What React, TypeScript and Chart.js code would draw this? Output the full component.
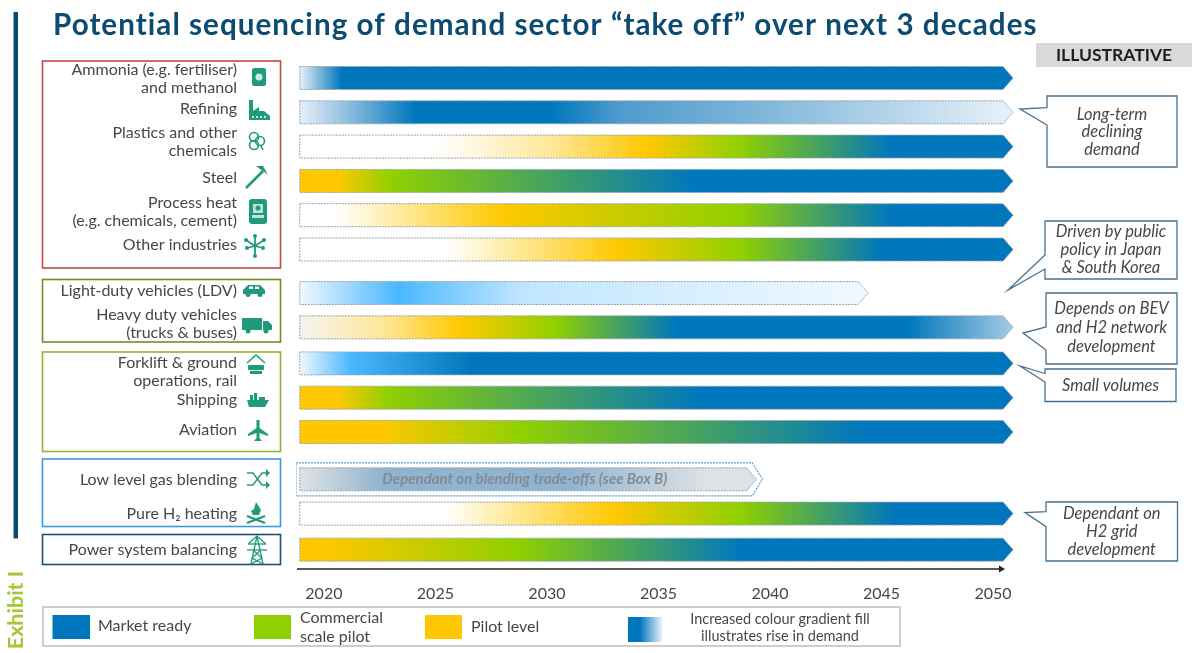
import React, { useEffect, useRef } from "react";
import { Chart, registerables, BarController, BarElement } from "chart.js";

Chart.register(...registerables);

// ---------- data ----------
const sectorLabels: (string | string[])[] = [
  ["Ammonia (e.g. fertiliser)", "and methanol"],
  "Refining",
  ["Plastics and other", "chemicals"],
  "Steel",
  ["Process heat", "(e.g. chemicals, cement)"],
  "Other industries",
  "Light-duty vehicles (LDV)",
  ["Heavy duty vehicles", "(trucks & buses)"],
  ["Forklift & ground", "operations, rail"],
  "Shipping",
  "Aviation",
  "Low level gas blending",
  "Pure H₂ heating",
  "Power system balancing",
];
const groupSizes = [6, 2, 3, 2, 1];
const barStartYears = [2018.92, 2018.92, 2018.92, 2018.92, 2018.92, 2018.92, 2018.92, 2018.92, 2018.92, 2018.92, 2018.92, 2018.92, 2018.92, 2018.92];
const barEndYears = [2050.9, 2050.9, 2050.9, 2050.9, 2050.9, 2050.9, 2044.4, 2050.9, 2050.9, 2050.9, 2050.9, 2039.4, 2050.9, 2050.9];
const stageYears = [
  [2018.92, 2020.8, 2050.9],
  [2018.92, 2021, 2024.1, 2030.2, 2033.3, 2039.6, 2050.6],
  [2018.92, 2025, 2030.2, 2034.5, 2038.7, 2045.4, 2050.9],
  [2018.92, 2020.6, 2023.1, 2036.6, 2050.9],
  [2018.92, 2020.5, 2028.1, 2038.7, 2045.4, 2050.9],
  [2018.92, 2025.6, 2033.2, 2038.7, 2045, 2050.9],
  [2018.92, 2023.3, 2028.9, 2044.4],
  [2018.92, 2022.6, 2026.2, 2030.4, 2035.8, 2046.2, 2050.9],
  [2018.92, 2021.2, 2026.6, 2050.9],
  [2018.92, 2020.6, 2022.9, 2036.9, 2050.9],
  [2018.92, 2022.6, 2028.9, 2044.2, 2050.9],
  [2018.92, 2022.6, 2031, 2037.3, 2039.4],
  [2018.92, 2025.4, 2033, 2038.7, 2045.6, 2050.9],
  [2018.92, 2020.1, 2028.7, 2038.7, 2050.9],
];
const stageNames = [
  ["demandFaint", "market", "market"],
  ["demandFaint", "demandHalf", "market", "market", "demandHigh", "demandMid", "demandFaint"],
  ["none", "none", "pilotPale", "pilot", "commercial", "market", "market"],
  ["pilot", "pilot", "commercial", "market", "market"],
  ["none", "none", "pilot", "commercial", "market", "market"],
  ["none", "none", "pilot", "commercial", "market", "market"],
  ["skyFaint", "sky", "skyPale", "skyFaint"],
  ["offWhite", "pilotPale", "pilot", "commercial", "market", "market", "demandLow"],
  ["skyFaint", "sky", "market", "market"],
  ["pilot", "pilot", "commercial", "market", "market"],
  ["pilot", "pilot", "commercial", "market", "market"],
  ["blendPale", "blendDeep", "blendDeep", "blendPale", "blendPale"],
  ["none", "none", "pilot", "commercial", "market", "market"],
  ["pilot", "pilot", "commercial", "market", "market"],
];
const tickYears = [2020, 2025, 2030, 2035, 2040, 2045, 2050];
const blendHaloStart = 2018.75;
const blendHaloEnd = 2039.66;
const blendIndex = 11;
const legendLabels = ["Market ready", ["Commercial", "scale pilot"], "Pilot level", ["Increased colour gradient fill", "illustrates rise in demand"]];

// ---------- style and layout ----------
const FONT = "Lato";
const TEXT = "#474747";
const NAVY = "#0C4C73";
const STAGE: Record<string, string> = {
  none: "#FFFFFF", offWhite: "#F4F4EE", market: "#0077BC", commercial: "#8FD000", pilot: "#FFC800", pilotPale: "#FFE79A",
  demandFaint: "#E6F0F8", demandHalf: "#8FC0E0", demandHigh: "#4F9BCD", demandMid: "#7FB6DA", demandLow: "#A3CBE5",
  sky: "#4AB8FF", skyPale: "#C0E6FF", skyFaint: "#F0F8FF", blendPale: "#DFE2E4", blendDeep: "#90B4D0",
};
const GROUP_GAPS = [0.27, 0.05, 0.38, 0.05];
const ROW_PX = 34.3;
const PLOT_TOP = 60;
const PLOT_BOTTOM = 570;
const FIRST_ROW_PX = 78;
const LABEL_NUDGE = [1, -3, -4.5, -3, -3, -4.5, -2, -3.5, 8, 2.5, -2, 1, 0, 0];
const BAR_DASH = [2, 1];
const HEAD_PX = 10;
const TITLE_SIZE = 30;

const rowPositions: number[] = [];
{
  let pos = 0;
  groupSizes.forEach((n, g) => {
    for (let i = 0; i < n; i++) rowPositions.push(pos + i);
    pos += n + (GROUP_GAPS[g] || 0);
  });
}

class ArrowBar extends BarElement {
  static id = "arrowBar";
  static defaults = { ...BarElement.defaults };
  draw(ctx: CanvasRenderingContext2D) {
    const { x, y, base, height } = (this as any).getProps(["x", "y", "base", "height"]);
    const o = (this as any).options;
    const h = height / 2;
    ctx.save();
    ctx.beginPath();
    ctx.moveTo(base, y - h);
    ctx.lineTo(x - HEAD_PX, y - h);
    ctx.lineTo(x, y);
    ctx.lineTo(x - HEAD_PX, y + h);
    ctx.lineTo(base, y + h);
    ctx.closePath();
    ctx.fillStyle = o.backgroundColor;
    ctx.fill();
    ctx.strokeStyle = o.borderColor;
    ctx.lineWidth = o.borderWidth;
    ctx.setLineDash(BAR_DASH);
    ctx.stroke();
    ctx.restore();
  }
}
class ArrowBarController extends BarController {
  static id = "arrowBar";
  static defaults = { ...BarController.defaults, dataElementType: "arrowBar" };
  static overrides = BarController.overrides;
}
Chart.register(ArrowBar as any, ArrowBarController as any);

const stageFill = (c: any) => {
  const scale = c.chart.scales.x;
  if (!scale || c.dataIndex === undefined) return "transparent";
  const i = c.dataIndex;
  const a = barStartYears[i];
  const b = barEndYears[i];
  const pa = scale.getPixelForValue(a);
  const pb = scale.getPixelForValue(b);
  if (!Number.isFinite(pa) || !Number.isFinite(pb)) return "transparent";
  const g = c.chart.ctx.createLinearGradient(pa, 0, pb, 0);
  stageYears[i].forEach((yr, k) => {
    g.addColorStop(Math.min(1, Math.max(0, (yr - a) / (b - a))), STAGE[stageNames[i][k]]);
  });
  return g;
};

// ---------- decorations ----------
const groupFrames = [
  { top: 61, bottom: 268, color: "#C4474B" },
  { top: 279.5, bottom: 342, color: "#6F8F2A" },
  { top: 352, bottom: 451.5, color: "#8FB52E" },
  { top: 459, bottom: 526.5, color: "#3B9AD6" },
  { top: 534.5, bottom: 564.5, color: "#1D4E6B" },
];
const callouts = [
  { box: [1047, 96, 1177, 167], tip: [1020, 109], join: [107.7, 125], lines: ["Long-term", "declining", "demand"], ys: [115, 132, 150] },
  { box: [1045, 221, 1177, 279], tip: [1008, 290], join: [255, 269], lines: ["Driven by public", "policy in Japan", "& South Korea"], ys: [232, 250, 268] },
  { box: [1046, 293, 1177, 364], tip: [1023, 333], join: [327, 350], lines: ["Depends on BEV", "and H2 network", "development"], ys: [309, 328, 347] },
  { box: [1045, 369, 1176, 401.5], tip: [1020, 366], join: [373.5, 382], lines: ["Small volumes"], ys: [386] },
  { box: [1046, 502, 1177.5, 561], tip: [1025, 512.5], join: [511.7, 526.7], lines: ["Dependant on", "H2 grid", "development"], ys: [514, 532, 550] },
];

const ICON = "#1F9A7C";
type Ctx = CanvasRenderingContext2D;
const poly = (c: Ctx, p: number[], fill = true) => {
  c.beginPath();
  for (let i = 0; i < p.length; i += 2) (i ? c.lineTo(p[i], p[i + 1]) : c.moveTo(p[i], p[i + 1]));
  if (fill) { c.closePath(); c.fill(); } else c.stroke();
};
const dot = (c: Ctx, x: number, y: number, r: number) => { c.beginPath(); c.arc(x, y, r, 0, Math.PI * 2); c.fill(); };
const ring = (c: Ctx, x: number, y: number, r: number) => { c.beginPath(); c.arc(x, y, r, 0, Math.PI * 2); c.stroke(); };
const icons: ((c: Ctx) => void)[] = [
  (c) => { c.beginPath(); c.roundRect(-7, -9, 14, 18, 2); c.fill(); c.fillStyle = "#CDE8DF"; dot(c, 0, 0, 3.5); },
  (c) => { poly(c, [-10, 10, -10, -10, -6, -10, -6, 1, 0, -3, 0, 1, 5, 1, 11, 6, 11, 10]); c.fillStyle = "#fff"; [-6, -2, 2, 6].forEach((x) => dot(c, x, 7, 1)); },
  (c) => { c.lineWidth = 1.6; ring(c, -2, -4, 4.5); ring(c, -2, 4, 4.5); ring(c, 4, 0, 4.5); c.beginPath(); c.moveTo(5, 5); c.lineTo(7, 9); c.stroke(); },
  (c) => { c.lineWidth = 2.6; poly(c, [-11, 11, 6, -6], false); poly(c, [-1, -11, 6, -11, 11, -2, 6, -6, 3, -8, -1, -11]); },
  (c) => { c.beginPath(); c.roundRect(-9, -13, 18, 25, 3); c.fill(); c.fillStyle = "#BFE3D6"; c.fillRect(-5, -8, 10, 9); c.fillRect(-6, 3, 12, 3); c.fillStyle = ICON; dot(c, 0, -4, 2.5); },
  (c) => { c.lineWidth = 1.8; [[-9, -6], [9, -6], [0, 10], [-8, 2], [8, 2], [0, -10]].forEach(([x, y]) => { c.beginPath(); c.moveTo(0, 0); c.lineTo(x, y); c.stroke(); dot(c, x, y, 2); }); },
  (c) => { poly(c, [-11, 0, -6, -5, 6, -5, 11, 0, 11, 4, -11, 4]); c.fillStyle = "#fff"; c.fillRect(-5, -3.5, 4, 2.5); c.fillRect(1, -3.5, 4, 2.5); c.fillStyle = ICON; dot(c, -6, 4.5, 2.5); dot(c, 6, 4.5, 2.5); },
  (c) => { c.fillRect(-15, -7, 20, 12); poly(c, [6, -4, 11, -4, 15, 0, 15, 5, 6, 5]); dot(c, -9, 6, 2.5); dot(c, 9, 6, 2.5); },
  (c) => { c.lineWidth = 1.5; poly(c, [-9, -1, 0, -9, 9, -1], false); c.beginPath(); c.roundRect(-8, 1, 16, 5, 1); c.fill(); c.fillRect(-6, 7, 12, 3); },
  (c) => { poly(c, [-11, 0, 11, 0, 7, 7, -9, 7]); c.fillRect(-8, -5, 3, 5); c.fillRect(-4, -7, 3, 7); c.fillRect(1, -3, 6, 3); },
  (c) => { poly(c, [-1.5, -11, 1.5, -11, 1.5, -3, 10, 3, 10, 5, 1.5, 2, 1.5, 7, 4, 10, -4, 10, -1.5, 7, -1.5, 2, -10, 5, -10, 3, -1.5, -3]); },
  (c) => {
    c.lineWidth = 1.4;
    c.beginPath(); c.moveTo(-11, -6); c.lineTo(-5, -6); c.lineTo(4, 6); c.lineTo(9, 6); c.stroke();
    c.beginPath(); c.moveTo(-11, 6); c.lineTo(-5, 6); c.lineTo(4, -6); c.lineTo(9, -6); c.stroke();
    poly(c, [8, -10, 12, -6, 8, -2]); poly(c, [8, 2, 12, 6, 8, 10]);
  },
  (c) => {
    poly(c, [0, -11, 5, -3, 3, 2, -3, 2, -5, -2, -2, -4]);
    c.lineWidth = 2.4; poly(c, [-9, 3, 9, 10], false); poly(c, [9, 3, -9, 10], false);
  },
  (c) => {
    c.lineWidth = 1.3;
    poly(c, [0, -14, -6, 14], false); poly(c, [0, -14, 6, 14], false);
    poly(c, [-9, -6, 9, -6], false); poly(c, [-10, 0, 10, 0], false); poly(c, [-9, -6, 0, -14, 9, -6], false);
    poly(c, [-4, 0, 5, 8, -6, 14], false); poly(c, [4, 0, -5, 8, 6, 14], false);
  },
];
const iconCentres = [[259, 77], [259, 110], [256, 141], [257, 177], [258, 212], [255, 246], [254, 290], [257, 325], [256, 364], [258, 400], [258, 431], [258, 479], [256, 513], [257, 550]];

const text = (c: Ctx, s: string, x: number, y: number, font: string, color = TEXT, align: CanvasTextAlign = "center") => {
  c.font = font; c.fillStyle = color; c.textAlign = align; c.textBaseline = "middle"; c.fillText(s, x, y);
};

const decorations = {
  id: "decorations",
  afterLayout(chart: any) {
    const t = chart.titleBlock;
    if (!t || t.__spaced) return;
    t.__spaced = true;
    const draw = t.draw.bind(t);
    t.draw = () => {
      const c = t.ctx;
      c.save();
      (c as any).letterSpacing = "1.05px";
      draw();
      c.restore();
    };
  },
  beforeDatasetsDraw(chart: any) {
    const c: Ctx = chart.ctx;
    c.save();
    c.fillStyle = NAVY;
    c.fillRect(13.5, 12, 4.5, 526.5);
    groupFrames.forEach((f) => { c.strokeStyle = f.color; c.lineWidth = 1.6; c.strokeRect(42.5, f.top, 238, f.bottom - f.top); });
    iconCentres.forEach(([x, y], i) => {
      c.save(); c.translate(x, y); c.fillStyle = ICON; c.strokeStyle = ICON; icons[i](c); c.restore();
    });
    c.restore();
  },
  afterDatasetsDraw(chart: any) {
    const c: Ctx = chart.ctx;
    const xs = chart.scales.x;
    c.save();
    // time arrow
    c.strokeStyle = "#222"; c.lineWidth = 1.6;
    c.beginPath(); c.moveTo(297, 569); c.lineTo(1000, 569); c.stroke();
    c.fillStyle = "#222"; poly(c, [999, 565.5, 1005, 569, 999, 572.5]);
    // text on the blending bar
    text(c, "Dependant on blending trade-offs (see Box B)", (xs.getPixelForValue(2020) + xs.getPixelForValue(2039.4)) / 2 - 15.5, 479, `italic bold 15px ${FONT}`, "#7F8C98");
    // illustrative tag
    c.fillStyle = "#D9D9D9"; c.fillRect(1036, 43, 156, 24);
    text(c, "ILLUSTRATIVE", 1114, 55.5, `bold 17.5px ${FONT}`, "#1E1E1E");
    // callouts
    callouts.forEach((k) => {
      const [l, t, r, b] = k.box;
      c.strokeStyle = "#45718F"; c.lineWidth = 1.3; c.fillStyle = "#fff";
      c.beginPath(); c.moveTo(l, t); c.lineTo(r, t); c.lineTo(r, b); c.lineTo(l, b);
      c.lineTo(l, k.join[1]); c.lineTo(k.tip[0], k.tip[1]); c.lineTo(l, k.join[0]); c.closePath();
      c.fill(); c.stroke();
      k.lines.forEach((s, i) => text(c, s, (l + r) / 2, k.ys[i], `italic 16.5px ${FONT}`));
    });
    // exhibit tag
    c.save(); c.translate(16, 610); c.rotate(-Math.PI / 2);
    text(c, "Exhibit I", 0, 0, `bold 21.5px ${FONT}`, "#A4C639");
    c.restore();
    // legend
    c.strokeStyle = "#BDBDBD"; c.lineWidth = 1.5; c.strokeRect(43, 607, 857, 39);
    c.fillStyle = STAGE.market; c.fillRect(52.5, 615, 37.5, 24);
    c.fillStyle = STAGE.commercial; c.fillRect(254, 615, 37, 24);
    c.fillStyle = STAGE.pilot; c.fillRect(425, 615, 37, 24);
    const g = c.createLinearGradient(628, 0, 662, 0);
    g.addColorStop(0, STAGE.market); g.addColorStop(0.35, STAGE.market); g.addColorStop(1, "#E8F2F8");
    c.fillStyle = g; c.fillRect(628, 617, 34, 25);
    const f = `16px ${FONT}`;
    text(c, legendLabels[0] as string, 98, 626, f, TEXT, "left");
    (legendLabels[1] as string[]).forEach((s, i) => text(c, s, 300, 618 + i * 18.5, f, TEXT, "left"));
    text(c, legendLabels[2] as string, 471, 627, f, TEXT, "left");
    (legendLabels[3] as string[]).forEach((s, i) => text(c, s, 780, 619 + i * 17.5, `14.5px ${FONT}`));
    c.restore();
  },
};

export default function App() {
  const ref = useRef<HTMLCanvasElement>(null);
  useEffect(() => {
    document.body.style.margin = "0";
    const chart = new Chart(ref.current as HTMLCanvasElement, {
      type: "arrowBar" as any,
      plugins: [decorations],
      data: {
        labels: sectorLabels as any,
        datasets: [
          {
            label: "Sector take-off",
            data: rowPositions.map((y, i) => ({ y, x: [barStartYears[i], barEndYears[i]] })),
            backgroundColor: stageFill,
            borderColor: "#9AA4AA",
            borderWidth: 1,
            barThickness: 23,
            grouped: false,
          },
          {
            label: "Blending halo",
            data: [{ y: rowPositions[blendIndex], x: [blendHaloStart, blendHaloEnd] }],
            backgroundColor: "rgba(0,0,0,0)",
            borderColor: "#5B9FCF",
            borderWidth: 1.2,
            barThickness: 33,
            grouped: false,
          },
        ] as any,
      },
      options: {
        indexAxis: "y",
        animation: false,
        responsive: false,
        layout: { padding: { left: 53, right: 154.4, top: 0, bottom: 0 } },
        plugins: {
          legend: { display: false },
          tooltip: { enabled: false },
          title: {
            display: true,
            text: "Potential sequencing of demand sector “take off” over next 3 decades",
            align: "start",
            color: NAVY,
            font: { family: FONT, size: TITLE_SIZE, weight: "bold" },
            padding: { top: 7, bottom: 60 - 7 - TITLE_SIZE * 1.2 },
          },
        },
        scales: {
          x: {
            type: "linear",
            min: 2018.75,
            max: 2052,
            grid: { display: false, drawTicks: false },
            border: { display: false },
            afterBuildTicks: (s: any) => { s.ticks = tickYears.map((value) => ({ value })); },
            afterFit: (s: any) => { s.height = 653 - PLOT_BOTTOM; s.paddingLeft = 0; s.paddingRight = 0; },
            ticks: { autoSkip: false, maxRotation: 0, padding: 14, color: TEXT, font: { family: FONT, size: 16 }, callback: (v: any) => String(v) },
          },
          y: {
            type: "linear",
            reverse: true,
            offset: false,
            min: -(FIRST_ROW_PX - PLOT_TOP) / ROW_PX,
            max: (PLOT_BOTTOM - FIRST_ROW_PX) / ROW_PX,
            grid: { display: false, drawTicks: false },
            border: { display: false },
            afterBuildTicks: (s: any) => { s.ticks = rowPositions.map((value) => ({ value })); },
            afterFit: (s: any) => { s.width = 243; s.paddingTop = 0; s.paddingBottom = 0; },
            afterUpdate: (s: any) => {
              const base = s.getPixelForValue.bind(s);
              s.getPixelForTick = (i: number) => base(s.ticks[i].value) + LABEL_NUDGE[i];
            },
            ticks: {
              autoSkip: false,
              padding: 59,
              color: TEXT,
              font: { family: FONT, size: 16, lineHeight: 1.125 },
              callback: (_v: any, i: number) => sectorLabels[i],
            },
          },
        },
      } as any,
    });
    return () => chart.destroy();
  }, []);
  return (
    <div style={{ position: "absolute", left: 0, top: 0, width: 1192, height: 653, overflow: "hidden", background: "#fff" }}>
      <canvas ref={ref} width={1192} height={653} style={{ display: "block" }} />
    </div>
  );
}
